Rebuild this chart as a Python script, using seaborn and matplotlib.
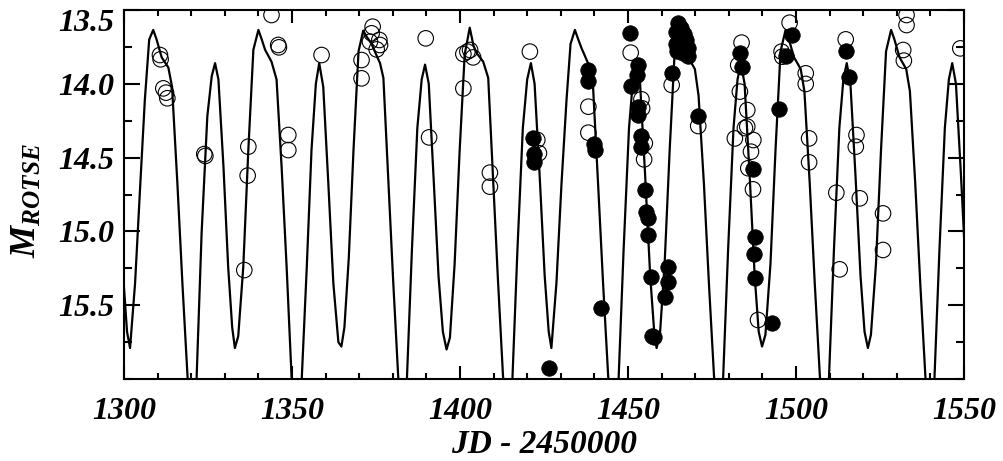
import matplotlib
matplotlib.use("Agg")
import matplotlib.pyplot as plt
import matplotlib.transforms as mtransforms
from matplotlib.ticker import MultipleLocator
import seaborn as sns

# model light curve (JD - 2450000, magnitude)
curve_jd = [1300.0, 1300.9, 1301.8, 1303.3, 1304.8, 1306.2, 1307.5, 1308.7, 1309.7, 1311.2,
            1313.2, 1314.3, 1315.9, 1317.4, 1318.9, 1320.2, 1321.6, 1323.1, 1324.8, 1326.1,
            1327.1, 1328.1, 1329.6, 1331.0, 1332.2, 1333.0, 1334.0, 1335.5, 1337.0, 1338.5,
            1340.0, 1341.0, 1342.0, 1343.9, 1345.4, 1346.9, 1348.4, 1349.9, 1351.3, 1352.9,
            1354.4, 1355.8, 1357.1, 1358.1, 1359.3, 1360.8, 1362.3, 1363.8, 1364.7, 1365.6,
            1366.9, 1368.3, 1369.8, 1371.2, 1372.2, 1373.7, 1375.4, 1376.2, 1377.2, 1378.6,
            1380.1, 1381.6, 1382.8, 1384.2, 1385.7, 1387.3, 1388.6, 1389.6, 1390.7, 1392.1,
            1393.6, 1394.9, 1396.0, 1397.0, 1398.4, 1399.9, 1401.4, 1402.9, 1404.0, 1404.9,
            1406.9, 1408.4, 1409.8, 1411.3, 1412.8, 1414.1, 1415.6, 1417.1, 1418.7, 1420.0,
            1421.1, 1422.2, 1423.7, 1425.2, 1426.4, 1427.2, 1428.7, 1430.2, 1431.7, 1432.9,
            1434.2, 1435.2, 1436.2, 1438.1, 1439.6, 1441.1, 1442.6, 1444.1, 1445.4, 1447.2,
            1448.7, 1450.3, 1451.5, 1452.5, 1453.6, 1455.1, 1456.6, 1457.8, 1458.5, 1459.5,
            1460.9, 1462.4, 1463.9, 1465.4, 1466.4, 1467.9, 1469.9, 1471.0, 1472.6, 1474.1,
            1475.6, 1476.9, 1478.3, 1479.8, 1481.4, 1482.6, 1483.6, 1484.7, 1486.2, 1487.7,
            1488.9, 1489.9, 1490.9, 1492.4, 1493.9, 1495.4, 1496.9, 1497.9, 1499.4, 1501.4,
            1502.5, 1504.1, 1505.6, 1507.1, 1508.4, 1509.8, 1511.3, 1512.9, 1514.1, 1515.1,
            1516.2, 1517.7, 1519.2, 1520.4, 1521.4, 1522.3, 1523.8, 1525.3, 1526.8, 1528.3,
            1529.3, 1530.8, 1532.8, 1533.9, 1535.5, 1537.0, 1538.5, 1539.8, 1541.2, 1542.7,
            1544.3, 1545.5, 1546.5, 1547.6, 1549.1, 1550.6]
curve_mag = [15.38, 15.68, 15.79, 15.35, 14.70, 14.11, 13.70, 13.635, 13.70, 13.82,
             13.89, 14.02, 14.68, 15.36, 15.98, 16.35, 16.00, 15.01, 14.22, 13.95,
             13.86, 13.97, 14.56, 15.24, 15.65, 15.79, 15.71, 15.24, 14.45, 13.77,
             13.635, 13.70, 13.77, 13.85, 13.97, 14.56, 15.24, 16.00, 16.35, 16.00,
             15.24, 14.45, 14.00, 13.86, 14.02, 14.67, 15.35, 15.75, 15.78, 15.65,
             15.18, 14.45, 13.78, 13.64, 13.68, 13.73, 13.82, 13.86, 13.96, 14.62,
             15.33, 15.98, 16.35, 16.00, 15.12, 14.30, 13.97, 13.87, 14.00, 14.62,
             15.30, 15.68, 15.80, 15.72, 15.22, 14.45, 13.80, 13.62, 13.74, 13.79,
             13.85, 13.96, 14.62, 15.33, 15.98, 16.35, 16.00, 15.12, 14.30, 13.97,
             13.86, 14.00, 14.62, 15.30, 15.68, 15.79, 15.35, 14.68, 14.11, 13.73,
             13.635, 13.70, 13.76, 13.86, 14.02, 14.68, 15.36, 15.98, 16.35, 16.00,
             15.12, 14.30, 13.97, 13.86, 14.00, 14.62, 15.30, 15.68, 15.79, 15.70,
             15.22, 14.45, 13.78, 13.635, 13.70, 13.82, 13.90, 14.08, 14.68, 15.36,
             15.98, 16.35, 16.00, 15.12, 14.30, 13.97, 13.86, 14.00, 14.62, 15.30,
             15.68, 15.78, 15.70, 15.22, 14.45, 13.78, 13.635, 13.70, 13.82, 13.90,
             14.05, 14.68, 15.36, 15.98, 16.35, 16.00, 15.12, 14.30, 13.97, 13.86,
             14.00, 14.62, 15.30, 15.68, 15.79, 15.70, 15.22, 14.45, 13.78, 13.635,
             13.70, 13.82, 13.90, 14.05, 14.68, 15.36, 15.98, 16.35, 16.00, 15.12,
             14.30, 13.97, 13.86, 14.00, 14.62, 15.30]

# older observations (open circles)
open_jd = [1310.7, 1310.9, 1311.7, 1312.5, 1312.9, 1323.9, 1324.2, 1337.0, 1336.8, 1335.8,
           1343.9, 1345.9, 1346.1, 1348.9, 1348.9, 1358.8,
           1374.0, 1373.7, 1376.0, 1376.2, 1375.2, 1373.2, 1370.7, 1370.7,
           1389.8, 1390.8, 1401.0, 1403.0, 1403.9, 1402.2, 1401.0, 1408.9, 1408.9,
           1420.8, 1423.0, 1423.5,
           1438.2, 1438.2, 1450.8, 1454.0, 1454.2, 1455.0, 1454.8, 1463.0, 1470.9,
           1483.8, 1482.8, 1483.3, 1485.5, 1485.5, 1484.8, 1481.8, 1487.3, 1486.6,
           1485.8, 1487.2, 1488.7,
           1498.1, 1495.7, 1495.9, 1502.9, 1502.9, 1503.9, 1503.9,
           1514.8, 1518.0, 1517.8, 1512.0, 1519.0, 1513.0, 1525.9, 1525.9,
           1532.9, 1532.9, 1531.9, 1532.1, 1548.9]
open_mag = [13.805, 13.834, 14.031, 14.060, 14.098, 14.476, 14.489, 14.426, 14.622, 15.262,
            13.534, 13.737, 13.753, 14.347, 14.449, 13.805,
            13.613, 13.658, 13.703, 13.737, 13.767, 13.715, 13.839, 13.963,
            13.692, 14.363, 13.798, 13.771, 13.821, 13.782, 14.031, 14.602, 14.697,
            13.782, 14.380, 14.470,
            14.155, 14.331, 13.789, 14.105, 14.166, 14.403, 14.512, 14.008, 14.286,
            13.721, 13.873, 14.053, 14.178, 14.290, 14.300, 14.370, 14.381, 14.460,
            14.572, 14.715, 15.600,
            13.586, 13.782, 13.816, 13.929, 14.001, 14.370, 14.532,
            13.699, 14.347, 14.426, 14.738, 14.776, 15.257, 14.878, 15.126,
            13.534, 13.602, 13.771, 13.843, 13.760]

# new observations (filled circles)
filled_jd = [1421.8, 1422.0, 1422.0, 1426.6, 1437.95, 1437.95, 1439.9, 1440.1, 1441.9,
             1450.6, 1453.0, 1452.8, 1450.8, 1453.0, 1453.0, 1453.8, 1453.9, 1455.0, 1455.3,
             1456.0, 1456.0, 1456.8, 1457.0, 1457.8, 1461.8, 1461.8, 1461.0, 1463.0,
             1464.9, 1465.8, 1464.3, 1466.6, 1465.3, 1467.3, 1464.2, 1466.0, 1467.8, 1464.6,
             1466.5, 1467.9, 1470.9,
             1483.3, 1483.8, 1487.1, 1487.75, 1487.45, 1487.75, 1493.0, 1494.8, 1497.0,
             1498.7, 1515.0, 1515.8]
filled_mag = [14.365, 14.476, 14.527, 15.928, 13.907, 13.979, 14.408, 14.449, 15.521,
              13.658, 13.873, 13.940, 14.015, 14.155, 14.211, 14.354, 14.426, 14.720, 14.870,
              14.911, 15.024, 15.311, 15.709, 15.718, 15.239, 15.341, 15.442, 13.929,
              13.59, 13.62, 13.65, 13.66, 13.69, 13.70, 13.73, 13.74, 13.76, 13.78,
              13.79, 13.81, 14.218,
              13.794, 13.889, 14.579, 15.040, 15.153, 15.318, 15.623, 14.173, 13.812,
              13.669, 13.776, 13.956]

x_ticks = [1300, 1350, 1400, 1450, 1500, 1550]
y_ticks = [13.5, 14.0, 14.5, 15.0, 15.5]

sns.set_style("ticks")
plt.rcParams["font.family"] = ["Liberation Serif", "DejaVu Serif"]
plt.rcParams["font.weight"] = "bold"
plt.rcParams["font.style"] = "italic"
plt.rcParams["axes.labelweight"] = "bold"
plt.rcParams["axes.labelcolor"] = "black"
plt.rcParams["text.color"] = "black"
plt.rcParams["mathtext.fontset"] = "custom"
plt.rcParams["mathtext.it"] = "Liberation Serif:bold:italic"
plt.rcParams["mathtext.rm"] = "Liberation Serif:bold:italic"

fig = plt.figure(figsize=(10.04, 4.61), dpi=100)
ax = fig.add_axes([124 / 1004, 1 - 379 / 461, 840 / 1004, 369 / 461])

sns.lineplot(x=curve_jd, y=curve_mag, sort=False, estimator=None, color="black",
             linewidth=1.6, ax=ax, zorder=2)
sns.scatterplot(x=open_jd, y=open_mag, marker="o", s=125, facecolor="none",
                edgecolor="black", linewidth=0.8, ax=ax, zorder=3)
sns.scatterplot(x=filled_jd, y=filled_mag, marker="o", s=125, color="black",
                edgecolor="black", linewidth=0.5, ax=ax, zorder=4)

ax.set_xlim(1300, 1550)
ax.set_ylim(16.0, 13.5)
ax.set_xticks(x_ticks)
ax.set_xticklabels([str(t) for t in x_ticks])
ax.set_yticks(y_ticks)
ax.set_yticklabels([f"{t:.1f}" for t in y_ticks])
ax.xaxis.set_minor_locator(MultipleLocator(10))
ax.yaxis.set_minor_locator(MultipleLocator(0.25))

ax.tick_params(which="both", direction="in", top=True, right=True, width=1.5,
               labelsize=23, colors="black")
ax.tick_params(axis="x", which="major", length=9.5, pad=13)
ax.tick_params(axis="x", which="minor", length=4.5)
ax.tick_params(axis="y", which="major", length=11.5, pad=7)
ax.tick_params(axis="y", which="minor", length=6)
for sp in ax.spines.values():
    sp.set_linewidth(1.5)
    sp.set_color("black")

# push the top y label down a bit, like the original
shift = mtransforms.ScaledTranslation(0, -7 / 72, fig.dpi_scale_trans)
top_lbl = ax.get_yticklabels()[0]
top_lbl.set_transform(top_lbl.get_transform() + shift)

ax.set_xlabel("JD - 2450000", fontsize=24, fontweight="bold", color="black")
ax.set_ylabel(r"$M_{ROTSE}$", fontsize=26, color="black")
ax.xaxis.set_label_coords(0.5, -0.135)
ax.yaxis.set_label_coords(-0.095, 0.485)

fig.savefig("out.png", dpi=100)
